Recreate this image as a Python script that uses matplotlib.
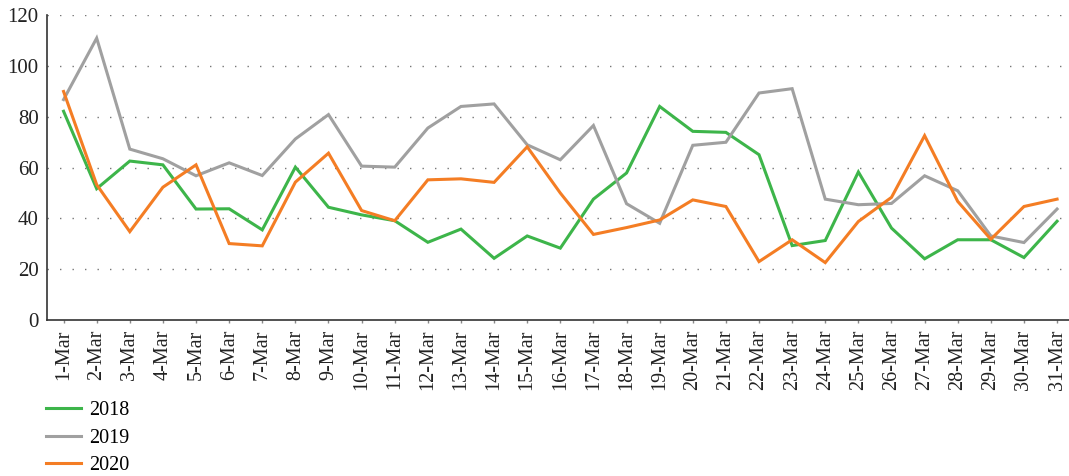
import matplotlib
matplotlib.use("Agg")
import matplotlib.pyplot as plt

days = [f"{d}-Mar" for d in range(1, 32)]

v2018 = [82.2, 51.7, 62.6, 61.1, 43.7, 43.8, 35.5, 60.2, 44.4, 41.4,
         39.1, 30.6, 35.8, 24.3, 33.1, 28.3, 47.6, 57.9, 84.1, 74.3,
         73.9, 65.1, 29.3, 31.3, 58.3, 36.2, 24.1, 31.6, 31.6, 24.6, 38.9]
v2019 = [86.8, 111.0, 67.3, 63.5, 56.8, 61.9, 56.9, 71.3, 80.9, 60.6,
         60.2, 75.6, 84.1, 85.1, 69.0, 63.1, 76.6, 45.8, 38.1, 68.8,
         70.0, 89.4, 91.1, 47.6, 45.4, 45.9, 56.8, 50.9, 33.1, 30.5, 43.7]
v2020 = [90.0, 53.3, 34.8, 52.3, 61.1, 30.1, 29.2, 54.3, 65.7, 43.1,
         39.1, 55.2, 55.6, 54.2, 68.2, 50.0, 33.7, 36.4, 39.4, 47.3,
         44.7, 23.0, 31.6, 22.6, 38.8, 48.3, 72.6, 46.7, 31.8, 44.7, 47.6]

series = [("2018", v2018, "#3db54a"), ("2019", v2019, "#a0a0a0"), ("2020", v2020, "#f47d24")]
yticks = [0, 20, 40, 60, 80, 100, 120]

plt.rcParams['font.family'] = ['Liberation Serif', 'DejaVu Serif']

W, H = 1069, 476
fig = plt.figure(figsize=(W / 100, H / 100), dpi=100)
ax = fig.add_axes([47 / W, 1 - 320 / H, (1069 - 47) / W, (320 - 15.3) / H])

x = list(range(len(days)))
for name, vals, col in series:
    ax.plot(x, vals, color=col, lw=2.2, label=name, solid_joinstyle='miter')

ax.set_ylim(0, 120)
ax.set_xlim(-0.5, 30.36)
ax.set_yticks(yticks)
ax.set_xticks(x)
ax.set_xticklabels(days, rotation=90, fontsize=14.5, color="#222222")
ax.tick_params(axis='y', labelsize=15, colors="#222222", length=0, pad=6)
ax.tick_params(axis='x', length=2, width=1, color="#888888", pad=5)
for yt in yticks[1:]:
    ax.axhline(yt, color="#777777", lw=1.0, ls=(0, (1, 8)), zorder=0)
for s in ["top", "right"]:
    ax.spines[s].set_visible(False)
ax.spines["left"].set_color("#333333")
ax.spines["left"].set_linewidth(1.2)
ax.spines["bottom"].set_color("#333333")
ax.spines["bottom"].set_linewidth(1.2)

handles, labels = ax.get_legend_handles_labels()
fig.legend(handles, labels, loc="upper left", bbox_to_anchor=(44 / W, 1 - 399 / H),
           frameon=False, fontsize=14.5, handlelength=1.75, handletextpad=0.4,
           labelspacing=0.42, borderpad=0.1, borderaxespad=0)

fig.savefig("out.png", dpi=100)
